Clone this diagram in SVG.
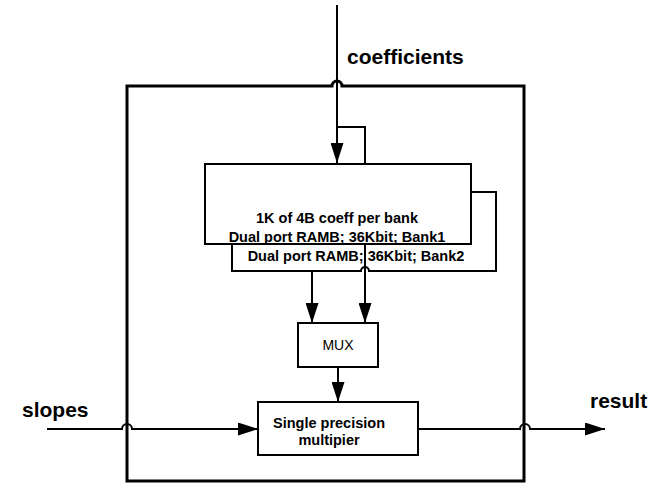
<svg xmlns="http://www.w3.org/2000/svg" width="655" height="483" viewBox="0 0 655 483">
<style>
.box{fill:#fff;stroke:#000;stroke-width:2}
.ln{fill:none;stroke:#000;stroke-width:2}
.lbl{font-family:"Liberation Sans",Arial,sans-serif;font-weight:bold;font-size:21px;fill:#000}
.t{font-family:"Liberation Sans",Arial,sans-serif;font-weight:bold;font-size:14.5px;fill:#000;text-anchor:middle}
.tn{font-family:"Liberation Sans",Arial,sans-serif;font-size:14px;fill:#000;text-anchor:middle}
</style>
<defs>
<marker id="ahl" markerWidth="20" markerHeight="13" refX="20" refY="6.5" orient="auto" markerUnits="userSpaceOnUse" viewBox="0 0 20 13">
<path d="M0,0 L20,6.5 L0,13 Z" fill="#000"/>
</marker>
</defs>
<rect width="655" height="483" fill="#fff"/>
<g id="outer">
<path d="M127,481 L127,86 L332,86 A5,5 0 0 1 342,86 L524,86 L524,481 Z" fill="none" stroke="#000" stroke-width="3"/>
</g>
<g id="bank2">
<path class="box" d="M232,192 L496,192 L496,271 L369,271 A4,4 0 0 0 361,271 L232,271 Z"/>
<text class="t" x="356" y="261">Dual port RAMB; 36Kbit; Bank2</text>
</g>
<g id="connectors">
<path class="ln" d="M337,5 L337,163" marker-end="url(#ahl)"/>
<path class="ln" d="M337,127 L365,127 L365,164"/>
<path class="ln" d="M365,244 L365,323" marker-end="url(#ahl)"/>
<path class="ln" d="M312,271 L312,323" marker-end="url(#ahl)"/>
<path class="ln" d="M338,367 L338,402" marker-end="url(#ahl)"/>
<path class="ln" d="M47,429 L122,429 A5,5 0 0 1 132,429 L258,429" marker-end="url(#ahl)"/>
<path class="ln" d="M418,429 L520,429 A5,5 0 0 1 530,429 L605,429" marker-end="url(#ahl)"/>
</g>
<g id="bank1">
<rect class="box" x="205" y="164" width="266" height="80"/>
<text class="t" x="337" y="223">1K of 4B coeff per bank</text>
<text class="t" x="337" y="242">Dual port RAMB; 36Kbit; Bank1</text>
</g>
<g id="mux">
<rect class="box" x="298" y="323" width="80" height="44"/>
<text class="tn" x="338" y="350">MUX</text>
</g>
<g id="multiplier">
<rect class="box" x="258" y="402" width="160" height="53"/>
<text class="t" x="329" y="428">Single precision</text>
<text class="t" x="329" y="445">multipier</text>
</g>
<g id="labels">
<text class="lbl" x="347" y="64">coefficients</text>
<text class="lbl" x="22" y="417">slopes</text>
<text class="lbl" x="590" y="408">result</text>
</g>
</svg>
